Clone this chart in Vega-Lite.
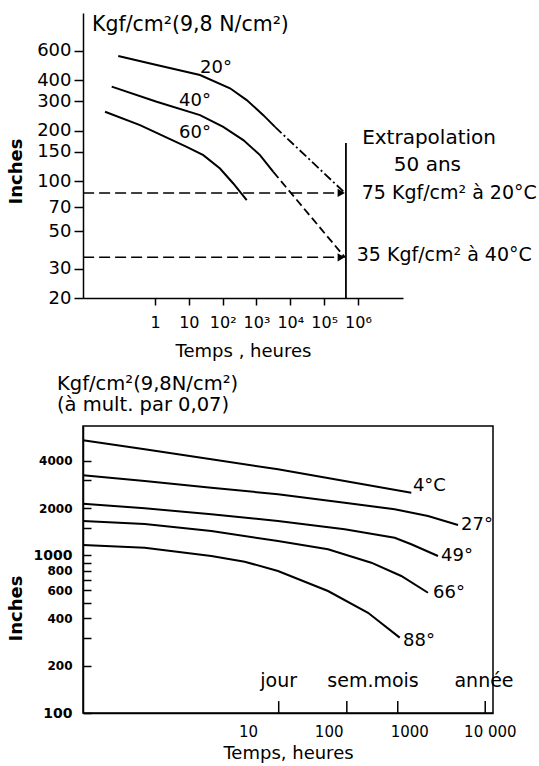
{
  "$schema": "https://vega.github.io/schema/vega-lite/v6.json",
  "padding": {"left": 6, "top": 13, "right": 0, "bottom": 0},
  "background": "white",
  "config": {
    "font": "DejaVu Sans",
    "concat": {"spacing": 12},
    "axis": {"grid": false, "domainColor": "black", "tickColor": "black", "labelColor": "black", "titleColor": "black", "domainWidth": 1.5, "tickWidth": 1.5, "labelFlush": false, "labelOverlap": false}
  },
  "datasets": {
    "topCurves": [
      {"series": "20°", "hours": 0.082, "p": 560}, {"series": "20°", "hours": 1.12, "p": 494}, {"series": "20°", "hours": 21.4, "p": 431}, {"series": "20°", "hours": 165, "p": 359}, {"series": "20°", "hours": 514, "p": 305}, {"series": "20°", "hours": 1590, "p": 248}, {"series": "20°", "hours": 3520, "p": 211},
      {"series": "40°", "hours": 0.0525, "p": 367}, {"series": "40°", "hours": 1.12, "p": 298}, {"series": "40°", "hours": 21.4, "p": 248}, {"series": "40°", "hours": 104, "p": 211}, {"series": "40°", "hours": 407, "p": 176}, {"series": "40°", "hours": 1270, "p": 143}, {"series": "40°", "hours": 3140, "p": 113.5},
      {"series": "60°", "hours": 0.0333, "p": 260}, {"series": "60°", "hours": 0.36, "p": 216}, {"series": "60°", "hours": 8.65, "p": 160}, {"series": "60°", "hours": 26.8, "p": 143}, {"series": "60°", "hours": 83.4, "p": 119}, {"series": "60°", "hours": 206, "p": 96.8}, {"series": "60°", "hours": 514, "p": 76.9}
    ],
    "topDashDot": [{"hours": 3520, "p": 211}, {"hours": 410000, "p": 85}],
    "topDashed": [{"hours": 3140, "p": 113.5}, {"hours": 410000, "p": 35}],
    "topRefs": [{"p": 85, "hours": 0.0075, "hours2": 300000}, {"p": 35, "hours": 0.0075, "hours2": 300000}],
    "topVert": [{"hours": 440000, "p": 20, "p2": 169}],
    "topArrows": [{"hours": 320000, "p": 85}, {"hours": 320000, "p": 35}],
    "topCurveText": [
      {"label": "20°", "hours": 63.5, "p": 475}, {"label": "40°", "hours": 15.2, "p": 301}, {"label": "60°", "hours": 15.2, "p": 194}
    ],
    "topNoteText": [
      {"label": "Extrapolation", "hours": 126000000, "p": 180}, {"label": "50 ans", "hours": 113000000, "p": 125}
    ],
    "topUnitText": [
      {"label": "Kgf/cm²(9,8 N/cm²)", "hours": 0.01374, "p": 859}
    ],
    "topLeftText": [
      {"label": "75 Kgf/cm² à 20°C", "hours": 1290000, "p": 85},
      {"label": "35 Kgf/cm² à 40°C", "hours": 917000, "p": 36}
    ],
    "botCurves": [
      {"series": "4°C", "hours": 0.0895, "p": 5390}, {"series": "4°C", "hours": 0.522, "p": 4720}, {"series": "4°C", "hours": 3.5, "p": 4085}, {"series": "4°C", "hours": 23.5, "p": 3525}, {"series": "4°C", "hours": 158, "p": 2972}, {"series": "4°C", "hours": 1060, "p": 2506},
      {"series": "27°", "hours": 0.0895, "p": 3228}, {"series": "27°", "hours": 0.522, "p": 2972}, {"series": "27°", "hours": 3.5, "p": 2695}, {"series": "27°", "hours": 23.5, "p": 2447}, {"series": "27°", "hours": 158, "p": 2163}, {"series": "27°", "hours": 659, "p": 1965}, {"series": "27°", "hours": 1708, "p": 1781}, {"series": "27°", "hours": 4027, "p": 1562},
      {"series": "49°", "hours": 0.0895, "p": 2133}, {"series": "49°", "hours": 0.522, "p": 1994}, {"series": "49°", "hours": 3.5, "p": 1826}, {"series": "49°", "hours": 23.5, "p": 1656}, {"series": "49°", "hours": 158, "p": 1467}, {"series": "49°", "hours": 659, "p": 1297}, {"series": "49°", "hours": 1060, "p": 1178}, {"series": "49°", "hours": 2271, "p": 993},
      {"series": "66°", "hours": 0.0895, "p": 1656}, {"series": "66°", "hours": 0.522, "p": 1585}, {"series": "66°", "hours": 3.5, "p": 1431}, {"series": "66°", "hours": 23.5, "p": 1236}, {"series": "66°", "hours": 98.1, "p": 1095}, {"series": "66°", "hours": 338, "p": 900}, {"series": "66°", "hours": 796, "p": 741}, {"series": "66°", "hours": 1708, "p": 580},
      {"series": "88°", "hours": 0.0895, "p": 1166}, {"series": "88°", "hours": 0.522, "p": 1121}, {"series": "88°", "hours": 3.5, "p": 993}, {"series": "88°", "hours": 9.08, "p": 913}, {"series": "88°", "hours": 23.5, "p": 797}, {"series": "88°", "hours": 98.1, "p": 595}, {"series": "88°", "hours": 308, "p": 433}, {"series": "88°", "hours": 761, "p": 301}
    ],
    "botTicks": [{"hours": 24, "p": 100, "p2": 119}, {"hours": 168, "p": 100, "p2": 119}, {"hours": 720, "p": 100, "p2": 119}, {"hours": 8760, "p": 100, "p2": 119}],
    "botCurveLabels": [
      {"label": "4°C", "hours": 1110, "p": 2762}, {"label": "27°", "hours": 4385, "p": 1562}, {"label": "49°", "hours": 2475, "p": 993}, {"label": "66°", "hours": 1969, "p": 580}, {"label": "88°", "hours": 836, "p": 287}
    ],
    "botPeriods": [{"label": "jour", "hours": 24, "p": 160}, {"label": "sem.mois", "hours": 355, "p": 160}, {"label": "année", "hours": 8460, "p": 160}]
  },
  "vconcat": [
    {
      "width": 320,
      "height": 285,
      "view": {"stroke": null},
      "encoding": {
        "x": {"field": "hours", "type": "quantitative", "scale": {"type": "log", "domain": [0.00744, 21400000], "nice": false},
          "axis": {"values": [1, 10, 100, 1000, 10000, 100000, 1000000], "labelExpr": "datum.value < 5 ? '1' : datum.value < 50 ? '10' : datum.value < 500 ? '10²' : datum.value < 5000 ? '10³' : datum.value < 50000 ? '10⁴' : datum.value < 500000 ? '10⁵' : '10⁶'", "tickSize": 7, "labelPadding": 9, "labelFontSize": 16, "title": "Temps , heures", "titleFontSize": 18, "titleFontWeight": "normal", "titlePadding": 12}},
        "y": {"field": "p", "type": "quantitative", "scale": {"type": "log", "domain": [20, 1012], "nice": false},
          "axis": {"values": [20, 30, 50, 70, 100, 150, 200, 300, 400, 600], "format": "d", "tickSize": 9, "labelPadding": 3, "labelFontSize": 18, "title": "Inches", "titleFontSize": 18, "titleFontWeight": "bold", "titleX": -67, "titleY": 158, "titleAngle": -90, "titleAlign": "center", "titleBaseline": "middle"}}
      },
      "layer": [
        {"data": {"name": "topCurves"}, "mark": {"type": "line", "color": "black", "strokeWidth": 2}, "encoding": {"detail": {"field": "series"}}},
        {"data": {"name": "topDashDot"}, "mark": {"type": "line", "color": "black", "strokeWidth": 1.8, "strokeDash": [9, 3, 2, 3]}, "encoding": {}},
        {"data": {"name": "topDashed"}, "mark": {"type": "line", "color": "black", "strokeWidth": 1.8, "strokeDash": [8, 4]}, "encoding": {}},
        {"data": {"name": "topRefs"}, "mark": {"type": "rule", "color": "black", "strokeWidth": 1.5, "strokeDash": [11, 5]}, "encoding": {"x2": {"field": "hours2"}}},
        {"data": {"name": "topVert"}, "mark": {"type": "rule", "color": "black", "strokeWidth": 1.8}, "encoding": {"y2": {"field": "p2"}}},
        {"data": {"name": "topArrows"}, "mark": {"type": "point", "shape": "triangle-right", "filled": true, "color": "black", "size": 70, "opacity": 1}},
        {"data": {"name": "topCurveText"}, "mark": {"type": "text", "fontSize": 18, "align": "center", "baseline": "middle", "color": "black"}, "encoding": {"text": {"field": "label"}}},
        {"data": {"name": "topNoteText"}, "mark": {"type": "text", "fontSize": 20, "align": "center", "baseline": "middle", "color": "black"}, "encoding": {"text": {"field": "label"}}},
        {"data": {"name": "topUnitText"}, "mark": {"type": "text", "fontSize": 20.5, "align": "left", "baseline": "middle", "color": "black"}, "encoding": {"text": {"field": "label"}}},
        {"data": {"name": "topLeftText"}, "mark": {"type": "text", "fontSize": 19, "align": "left", "baseline": "middle", "color": "black"}, "encoding": {"text": {"field": "label"}}}
      ]
    },
    {
      "width": 410,
      "height": 287,
      "title": {"text": ["Kgf/cm²(9,8N/cm²)", "(à mult. par 0,07)"], "anchor": "start", "frame": "group", "dx": -26, "fontSize": 19.5, "fontWeight": "normal", "lineHeight": 21, "offset": 11, "color": "black"},
      "view": {"stroke": "black", "strokeWidth": 1.5},
      "encoding": {
        "x": {"field": "hours", "type": "quantitative", "scale": {"type": "log", "domain": [0.0895, 10940], "nice": false},
          "axis": {"values": [10, 100, 1000, 10000], "format": "d", "labelExpr": "datum.value == 10000 ? '10 000' : datum.label", "ticks": false, "tickSize": 0, "labelPadding": 11, "labelFontSize": 15, "title": "Temps, heures", "titleFontSize": 18, "titleFontWeight": "normal", "titlePadding": 5}},
        "y": {"field": "p", "type": "quantitative", "scale": {"type": "log", "domain": [100, 6640], "nice": false},
          "axis": {"values": [100, 200, 300, 400, 500, 600, 700, 800, 900, 1000, 1500, 2000, 3000, 4000], "labelExpr": "indexof([100, 200, 400, 600, 800, 1000, 2000, 4000], datum.value) >= 0 ? format(datum.value, 'd') : ''", "tickSize": -8, "labelPadding": 19, "labelFontWeight": "bold", "labelFontSize": {"condition": {"test": "datum.value == 1000 || datum.value == 100", "value": 14}, "value": 12}, "title": "Inches", "titleFontSize": 18, "titleFontWeight": "bold", "titleX": -67, "titleY": 182, "titleAngle": -90, "titleAlign": "center", "titleBaseline": "middle"}}
      },
      "layer": [
        {"data": {"name": "botCurves"}, "mark": {"type": "line", "color": "black", "strokeWidth": 2}, "encoding": {"detail": {"field": "series"}}},
        {"data": {"name": "botTicks"}, "mark": {"type": "rule", "color": "black", "strokeWidth": 1.5}, "encoding": {"y2": {"field": "p2"}}},
        {"data": {"name": "botCurveLabels"}, "mark": {"type": "text", "fontSize": 18, "align": "left", "baseline": "middle", "color": "black"}, "encoding": {"text": {"field": "label"}}},
        {"data": {"name": "botPeriods"}, "mark": {"type": "text", "fontSize": 19, "align": "center", "baseline": "middle", "color": "black"}, "encoding": {"text": {"field": "label"}}}
      ]
    }
  ]
}
